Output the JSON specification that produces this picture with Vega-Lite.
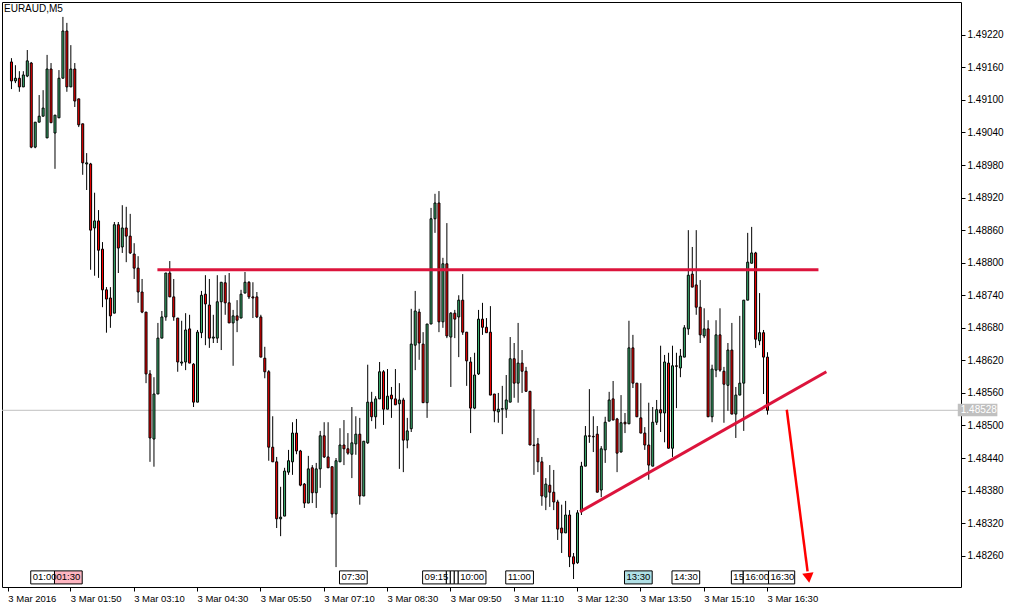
{
  "$schema": "https://vega.github.io/schema/vega-lite/v6.json",
  "width": 959,
  "height": 585,
  "autosize": {"type": "none"},
  "padding": {"left": 2, "top": 2, "right": 53, "bottom": 21},
  "background": "white",
  "config": {
    "view": {"stroke": "black", "strokeWidth": 1},
    "font": "Liberation Sans",
    "axis": {"labelFont": "Liberation Sans", "labelFontSize": 9.5, "labelColor": "black", "tickColor": "black", "domain": false, "grid": false, "title": null, "labelOverlap": false}
  },
  "title": {"text": "EURAUD,M5", "anchor": "start", "frame": "group", "orient": "top", "offset": -12, "dx": 2, "fontSize": 10, "fontWeight": "normal", "font": "Liberation Sans", "color": "black"},
  "datasets": {
    "candles": [
      {"t":35,"open":1.49170,"high":1.49177,"low":1.49120,"close":1.49135},
      {"t":40,"open":1.49135,"high":1.49164,"low":1.49131,"close":1.49140},
      {"t":45,"open":1.49140,"high":1.49153,"low":1.49115,"close":1.49124},
      {"t":50,"open":1.49124,"high":1.49153,"low":1.49124,"close":1.49146},
      {"t":55,"open":1.49144,"high":1.49192,"low":1.49142,"close":1.49172},
      {"t":60,"open":1.49168,"high":1.49170,"low":1.49011,"close":1.49013},
      {"t":65,"open":1.49013,"high":1.49059,"low":1.49011,"close":1.49059},
      {"t":70,"open":1.49059,"high":1.49109,"low":1.49059,"close":1.49070},
      {"t":75,"open":1.49070,"high":1.49118,"low":1.49070,"close":1.49085},
      {"t":80,"open":1.49030,"high":1.49183,"low":1.49030,"close":1.49157},
      {"t":85,"open":1.49157,"high":1.49168,"low":1.49058,"close":1.49058},
      {"t":90,"open":1.49039,"high":1.49072,"low":1.48973,"close":1.49072},
      {"t":95,"open":1.49067,"high":1.49155,"low":1.49067,"close":1.49140},
      {"t":100,"open":1.49140,"high":1.49253,"low":1.49140,"close":1.49227},
      {"t":105,"open":1.49227,"high":1.49242,"low":1.49115,"close":1.49124},
      {"t":110,"open":1.49124,"high":1.49201,"low":1.49124,"close":1.49157},
      {"t":115,"open":1.49157,"high":1.49168,"low":1.49087,"close":1.49098},
      {"t":120,"open":1.49102,"high":1.49102,"low":1.49050,"close":1.49054},
      {"t":125,"open":1.49056,"high":1.49056,"low":1.48962,"close":1.48984},
      {"t":130,"open":1.48982,"high":1.49002,"low":1.48934,"close":1.48984},
      {"t":135,"open":1.48982,"high":1.48984,"low":1.48787,"close":1.48860},
      {"t":140,"open":1.48864,"high":1.48929,"low":1.48776,"close":1.48877},
      {"t":145,"open":1.48877,"high":1.48897,"low":1.48772,"close":1.48823},
      {"t":150,"open":1.48825,"high":1.48838,"low":1.48718,"close":1.48750},
      {"t":155,"open":1.48750,"high":1.48755,"low":1.48671,"close":1.48733},
      {"t":160,"open":1.48735,"high":1.48755,"low":1.48680,"close":1.48702},
      {"t":165,"open":1.48707,"high":1.48875,"low":1.48707,"close":1.48870},
      {"t":170,"open":1.48870,"high":1.48875,"low":1.48781,"close":1.48827},
      {"t":175,"open":1.48829,"high":1.48906,"low":1.48818,"close":1.48864},
      {"t":180,"open":1.48864,"high":1.48903,"low":1.48801,"close":1.48849},
      {"t":185,"open":1.48849,"high":1.48890,"low":1.48816,"close":1.48818},
      {"t":190,"open":1.48816,"high":1.48836,"low":1.48770,"close":1.48790},
      {"t":195,"open":1.48790,"high":1.48812,"low":1.48726,"close":1.48746},
      {"t":200,"open":1.48746,"high":1.48770,"low":1.48707,"close":1.48709},
      {"t":205,"open":1.48709,"high":1.48709,"low":1.48578,"close":1.48595},
      {"t":210,"open":1.48595,"high":1.48602,"low":1.48433,"close":1.48477},
      {"t":215,"open":1.48475,"high":1.48589,"low":1.48424,"close":1.48558},
      {"t":220,"open":1.48558,"high":1.48689,"low":1.48558,"close":1.48661},
      {"t":225,"open":1.48661,"high":1.48711,"low":1.48661,"close":1.48700},
      {"t":230,"open":1.48700,"high":1.48781,"low":1.48693,"close":1.48781},
      {"t":235,"open":1.48781,"high":1.48803,"low":1.48737,"close":1.48737},
      {"t":240,"open":1.48737,"high":1.48770,"low":1.48693,"close":1.48700},
      {"t":245,"open":1.48698,"high":1.48698,"low":1.48599,"close":1.48617},
      {"t":250,"open":1.48615,"high":1.48693,"low":1.48610,"close":1.48617},
      {"t":255,"open":1.48617,"high":1.48707,"low":1.48602,"close":1.48676},
      {"t":260,"open":1.48678,"high":1.48704,"low":1.48615,"close":1.48615},
      {"t":265,"open":1.48613,"high":1.48615,"low":1.48534,"close":1.48543},
      {"t":270,"open":1.48543,"high":1.48676,"low":1.48543,"close":1.48672},
      {"t":275,"open":1.48671,"high":1.48748,"low":1.48661,"close":1.48740},
      {"t":280,"open":1.48742,"high":1.48777,"low":1.48648,"close":1.48724},
      {"t":285,"open":1.48722,"high":1.48770,"low":1.48643,"close":1.48661},
      {"t":290,"open":1.48661,"high":1.48704,"low":1.48652,"close":1.48663},
      {"t":295,"open":1.48661,"high":1.48777,"low":1.48652,"close":1.48728},
      {"t":300,"open":1.48728,"high":1.48764,"low":1.48639,"close":1.48764},
      {"t":305,"open":1.48763,"high":1.48777,"low":1.48704,"close":1.48726},
      {"t":310,"open":1.48726,"high":1.48781,"low":1.48689,"close":1.48689},
      {"t":315,"open":1.48689,"high":1.48713,"low":1.48610,"close":1.48702},
      {"t":320,"open":1.48702,"high":1.48731,"low":1.48672,"close":1.48694},
      {"t":325,"open":1.48698,"high":1.48750,"low":1.48698,"close":1.48742},
      {"t":330,"open":1.48744,"high":1.48783,"low":1.48744,"close":1.48764},
      {"t":335,"open":1.48764,"high":1.48766,"low":1.48733,"close":1.48737},
      {"t":340,"open":1.48737,"high":1.48764,"low":1.48698,"close":1.48735},
      {"t":345,"open":1.48737,"high":1.48746,"low":1.48698,"close":1.48700},
      {"t":350,"open":1.48700,"high":1.48704,"low":1.48626,"close":1.48626},
      {"t":355,"open":1.48624,"high":1.48645,"low":1.48587,"close":1.48599},
      {"t":360,"open":1.48599,"high":1.48602,"low":1.48435,"close":1.48460},
      {"t":365,"open":1.48460,"high":1.48517,"low":1.48433,"close":1.48433},
      {"t":370,"open":1.48433,"high":1.48442,"low":1.48311,"close":1.48328},
      {"t":375,"open":1.48328,"high":1.48387,"low":1.48296,"close":1.48331},
      {"t":380,"open":1.48333,"high":1.48422,"low":1.48333,"close":1.48416},
      {"t":385,"open":1.48414,"high":1.48455,"low":1.48409,"close":1.48435},
      {"t":390,"open":1.48433,"high":1.48506,"low":1.48409,"close":1.48486},
      {"t":395,"open":1.48486,"high":1.48512,"low":1.48447,"close":1.48453},
      {"t":400,"open":1.48453,"high":1.48455,"low":1.48388,"close":1.48390},
      {"t":405,"open":1.48392,"high":1.48394,"low":1.48348,"close":1.48357},
      {"t":410,"open":1.48357,"high":1.48444,"low":1.48357,"close":1.48420},
      {"t":415,"open":1.48422,"high":1.48427,"low":1.48357,"close":1.48376},
      {"t":420,"open":1.48376,"high":1.48431,"low":1.48348,"close":1.48420},
      {"t":425,"open":1.48420,"high":1.48490,"low":1.48385,"close":1.48481},
      {"t":430,"open":1.48481,"high":1.48506,"low":1.48440,"close":1.48442},
      {"t":435,"open":1.48442,"high":1.48506,"low":1.48422,"close":1.48422},
      {"t":440,"open":1.48424,"high":1.48424,"low":1.48330,"close":1.48337},
      {"t":445,"open":1.48337,"high":1.48440,"low":1.48239,"close":1.48435},
      {"t":450,"open":1.48433,"high":1.48495,"low":1.48433,"close":1.48464},
      {"t":455,"open":1.48464,"high":1.48510,"low":1.48427,"close":1.48457},
      {"t":460,"open":1.48457,"high":1.48486,"low":1.48446,"close":1.48449},
      {"t":465,"open":1.48447,"high":1.48534,"low":1.48403,"close":1.48468},
      {"t":470,"open":1.48466,"high":1.48517,"low":1.48446,"close":1.48484},
      {"t":475,"open":1.48484,"high":1.48514,"low":1.48354,"close":1.48370},
      {"t":480,"open":1.48370,"high":1.48471,"low":1.48370,"close":1.48471},
      {"t":485,"open":1.48468,"high":1.48612,"low":1.48466,"close":1.48543},
      {"t":490,"open":1.48543,"high":1.48562,"low":1.48508,"close":1.48516},
      {"t":495,"open":1.48516,"high":1.48554,"low":1.48494,"close":1.48549},
      {"t":500,"open":1.48549,"high":1.48617,"low":1.48549,"close":1.48599},
      {"t":505,"open":1.48599,"high":1.48602,"low":1.48501,"close":1.48530},
      {"t":510,"open":1.48530,"high":1.48604,"low":1.48530,"close":1.48554},
      {"t":515,"open":1.48556,"high":1.48571,"low":1.48514,"close":1.48549},
      {"t":520,"open":1.48549,"high":1.48604,"low":1.48538,"close":1.48538},
      {"t":525,"open":1.48540,"high":1.48578,"low":1.48420,"close":1.48547},
      {"t":530,"open":1.48547,"high":1.48551,"low":1.48414,"close":1.48473},
      {"t":535,"open":1.48473,"high":1.48514,"low":1.48458,"close":1.48490},
      {"t":540,"open":1.48494,"high":1.48715,"low":1.48488,"close":1.48650},
      {"t":545,"open":1.48648,"high":1.48748,"low":1.48602,"close":1.48711},
      {"t":550,"open":1.48709,"high":1.48715,"low":1.48621,"close":1.48652},
      {"t":555,"open":1.48650,"high":1.48672,"low":1.48542,"close":1.48542},
      {"t":560,"open":1.48542,"high":1.48687,"low":1.48514,"close":1.48687},
      {"t":565,"open":1.48687,"high":1.48901,"low":1.48687,"close":1.48881},
      {"t":570,"open":1.48881,"high":1.48927,"low":1.48855,"close":1.48910},
      {"t":575,"open":1.48910,"high":1.48932,"low":1.48672,"close":1.48691},
      {"t":580,"open":1.48691,"high":1.48809,"low":1.48680,"close":1.48798},
      {"t":585,"open":1.48798,"high":1.48873,"low":1.48661,"close":1.48665},
      {"t":590,"open":1.48663,"high":1.48709,"low":1.48571,"close":1.48707},
      {"t":595,"open":1.48707,"high":1.48713,"low":1.48661,"close":1.48696},
      {"t":600,"open":1.48700,"high":1.48740,"low":1.48626,"close":1.48731},
      {"t":605,"open":1.48731,"high":1.48779,"low":1.48667,"close":1.48672},
      {"t":610,"open":1.48672,"high":1.48672,"low":1.48573,"close":1.48619},
      {"t":615,"open":1.48617,"high":1.48626,"low":1.48486,"close":1.48532},
      {"t":620,"open":1.48532,"high":1.48634,"low":1.48530,"close":1.48593},
      {"t":625,"open":1.48595,"high":1.48713,"low":1.48593,"close":1.48696},
      {"t":630,"open":1.48696,"high":1.48726,"low":1.48667,"close":1.48681},
      {"t":635,"open":1.48681,"high":1.48698,"low":1.48671,"close":1.48671},
      {"t":640,"open":1.48672,"high":1.48720,"low":1.48556,"close":1.48556},
      {"t":645,"open":1.48558,"high":1.48558,"low":1.48506,"close":1.48527},
      {"t":650,"open":1.48525,"high":1.48560,"low":1.48505,"close":1.48530},
      {"t":655,"open":1.48530,"high":1.48573,"low":1.48484,"close":1.48531},
      {"t":660,"open":1.48530,"high":1.48593,"low":1.48514,"close":1.48547},
      {"t":665,"open":1.48543,"high":1.48663,"low":1.48543,"close":1.48623},
      {"t":670,"open":1.48623,"high":1.48652,"low":1.48551,"close":1.48578},
      {"t":675,"open":1.48578,"high":1.48689,"low":1.48542,"close":1.48615},
      {"t":680,"open":1.48615,"high":1.48639,"low":1.48560,"close":1.48600},
      {"t":685,"open":1.48600,"high":1.48608,"low":1.48562,"close":1.48563},
      {"t":690,"open":1.48563,"high":1.48563,"low":1.48464,"close":1.48464},
      {"t":695,"open":1.48464,"high":1.48530,"low":1.48409,"close":1.48463},
      {"t":700,"open":1.48466,"high":1.48477,"low":1.48414,"close":1.48433},
      {"t":705,"open":1.48433,"high":1.48442,"low":1.48352,"close":1.48370},
      {"t":710,"open":1.48368,"high":1.48403,"low":1.48344,"close":1.48392},
      {"t":715,"open":1.48390,"high":1.48427,"low":1.48350,"close":1.48377},
      {"t":720,"open":1.48377,"high":1.48418,"low":1.48344,"close":1.48359},
      {"t":725,"open":1.48359,"high":1.48363,"low":1.48289,"close":1.48309},
      {"t":730,"open":1.48311,"high":1.48354,"low":1.48265,"close":1.48302},
      {"t":735,"open":1.48302,"high":1.48361,"low":1.48302,"close":1.48335},
      {"t":740,"open":1.48335,"high":1.48344,"low":1.48239,"close":1.48258},
      {"t":745,"open":1.48258,"high":1.48265,"low":1.48217,"close":1.48245},
      {"t":750,"open":1.48247,"high":1.48344,"low":1.48245,"close":1.48339},
      {"t":755,"open":1.48341,"high":1.48433,"low":1.48335,"close":1.48425},
      {"t":760,"open":1.48425,"high":1.48499,"low":1.48425,"close":1.48481},
      {"t":765,"open":1.48481,"high":1.48567,"low":1.48468,"close":1.48480},
      {"t":770,"open":1.48480,"high":1.48517,"low":1.48451,"close":1.48479},
      {"t":775,"open":1.48484,"high":1.48499,"low":1.48377,"close":1.48377},
      {"t":780,"open":1.48381,"high":1.48462,"low":1.48368,"close":1.48457},
      {"t":785,"open":1.48455,"high":1.48516,"low":1.48431,"close":1.48506},
      {"t":790,"open":1.48508,"high":1.48562,"low":1.48508,"close":1.48547},
      {"t":795,"open":1.48549,"high":1.48582,"low":1.48510,"close":1.48510},
      {"t":800,"open":1.48512,"high":1.48514,"low":1.48414,"close":1.48449},
      {"t":805,"open":1.48451,"high":1.48556,"low":1.48451,"close":1.48505},
      {"t":810,"open":1.48506,"high":1.48523,"low":1.48486,"close":1.48503},
      {"t":815,"open":1.48503,"high":1.48693,"low":1.48503,"close":1.48643},
      {"t":820,"open":1.48643,"high":1.48667,"low":1.48569,"close":1.48578},
      {"t":825,"open":1.48578,"high":1.48578,"low":1.48516,"close":1.48516},
      {"t":830,"open":1.48514,"high":1.48578,"low":1.48486,"close":1.48486},
      {"t":835,"open":1.48486,"high":1.48497,"low":1.48455,"close":1.48464},
      {"t":840,"open":1.48464,"high":1.48542,"low":1.48400,"close":1.48427},
      {"t":845,"open":1.48425,"high":1.48534,"low":1.48425,"close":1.48506},
      {"t":850,"open":1.48506,"high":1.48547,"low":1.48501,"close":1.48529},
      {"t":855,"open":1.48529,"high":1.48647,"low":1.48488,"close":1.48523},
      {"t":860,"open":1.48523,"high":1.48630,"low":1.48469,"close":1.48617},
      {"t":865,"open":1.48615,"high":1.48634,"low":1.48458,"close":1.48458},
      {"t":870,"open":1.48458,"high":1.48647,"low":1.48442,"close":1.48610},
      {"t":875,"open":1.48610,"high":1.48634,"low":1.48532,"close":1.48609},
      {"t":880,"open":1.48606,"high":1.48641,"low":1.48589,"close":1.48628},
      {"t":885,"open":1.48626,"high":1.48685,"low":1.48626,"close":1.48680},
      {"t":890,"open":1.48678,"high":1.48860,"low":1.48667,"close":1.48777},
      {"t":895,"open":1.48779,"high":1.48829,"low":1.48755,"close":1.48755},
      {"t":900,"open":1.48759,"high":1.48860,"low":1.48704,"close":1.48718},
      {"t":905,"open":1.48718,"high":1.48768,"low":1.48652,"close":1.48667},
      {"t":910,"open":1.48665,"high":1.48716,"low":1.48661,"close":1.48678},
      {"t":915,"open":1.48678,"high":1.48694,"low":1.48516,"close":1.48516},
      {"t":920,"open":1.48516,"high":1.48612,"low":1.48506,"close":1.48604},
      {"t":925,"open":1.48602,"high":1.48694,"low":1.48589,"close":1.48667},
      {"t":930,"open":1.48667,"high":1.48716,"low":1.48599,"close":1.48602},
      {"t":935,"open":1.48600,"high":1.48608,"low":1.48505,"close":1.48576},
      {"t":940,"open":1.48574,"high":1.48652,"low":1.48527,"close":1.48639},
      {"t":945,"open":1.48639,"high":1.48689,"low":1.48521,"close":1.48521},
      {"t":950,"open":1.48521,"high":1.48571,"low":1.48477,"close":1.48556},
      {"t":955,"open":1.48556,"high":1.48702,"low":1.48556,"close":1.48578},
      {"t":960,"open":1.48578,"high":1.48731,"low":1.48490,"close":1.48731},
      {"t":965,"open":1.48731,"high":1.48855,"low":1.48731,"close":1.48801},
      {"t":970,"open":1.48799,"high":1.48866,"low":1.48799,"close":1.48818},
      {"t":975,"open":1.48818,"high":1.48820,"low":1.48643,"close":1.48659},
      {"t":980,"open":1.48656,"high":1.48744,"low":1.48648,"close":1.48671},
      {"t":985,"open":1.48671,"high":1.48676,"low":1.48558,"close":1.48626},
      {"t":990,"open":1.48626,"high":1.48635,"low":1.48520,"close":1.48528}
    ],
    "levels": [
      {"name": "resistance", "t": 220, "p": 1.48787},
      {"name": "resistance", "t": 1055, "p": 1.48787},
      {"name": "support", "t": 753.75, "p": 1.48341},
      {"name": "support", "t": 1065, "p": 1.48599}
    ],
    "arrow": [
      {"t": 1015, "p": 1.48529},
      {"t": 1041.25, "p": 1.48231}
    ],
    "arrowhead": [
      {"t": 1042.5, "p": 1.48219}
    ],
    "events": [
      {"t": 60, "t_end": 90, "label": "01:00", "kind": "low"},
      {"t": 90, "t_end": 125, "label": "01:30", "kind": "high"},
      {"t": 450, "t_end": 485, "label": "07:30", "kind": "low"},
      {"t": 555, "t_end": 585, "label": "09:15", "kind": "low"},
      {"t": 585, "t_end": 590, "label": "09:45", "kind": "low"},
      {"t": 590, "t_end": 595, "label": "09:50", "kind": "low"},
      {"t": 595, "t_end": 600, "label": "09:55", "kind": "low"},
      {"t": 600, "t_end": 635, "label": "10:00", "kind": "low"},
      {"t": 660, "t_end": 695, "label": "11:00", "kind": "low"},
      {"t": 810, "t_end": 845, "label": "13:30", "kind": "medium"},
      {"t": 870, "t_end": 905, "label": "14:30", "kind": "low"},
      {"t": 945, "t_end": 960, "label": "15:45", "kind": "low"},
      {"t": 960, "t_end": 992, "label": "16:00", "kind": "low"},
      {"t": 992, "t_end": 1025, "label": "16:30", "kind": "low"}
    ],
    "bid": [{"price": 1.48528}]
  },
  "layer": [
    {
      "data": {"name": "bid"},
      "mark": {"type": "rule", "color": "#C0C0C0", "strokeWidth": 1},
      "encoding": {
        "y": {
          "field": "price", "type": "quantitative",
          "scale": {"domain": [1.482023, 1.492805], "nice": false, "zero": false},
          "axis": {
            "orient": "right",
            "values": [1.4826, 1.4832, 1.4838, 1.4844, 1.485, 1.4856, 1.4862, 1.4868, 1.4874, 1.488, 1.4886, 1.4892, 1.4898, 1.4904, 1.491, 1.4916, 1.4922],
            "tickCount": 40,
            "format": ".5f",
            "tickSize": 4,
            "labelPadding": 2,
            "labelFontSize": 10,
            "labelFlush": false,
            "labelOverlap": false
          }
        }
      }
    },
    {
      "data": {"name": "candles"},
      "mark": {"type": "rule", "color": "black", "strokeWidth": 1, "xOffset": 0.5},
      "encoding": {
        "x": {
          "field": "t", "type": "quantitative",
          "scale": {"domain": [30, 1228.75], "nice": false, "zero": false},
          "axis": {
            "orient": "bottom",
            "values": [31, 110, 190, 270, 350, 430, 510, 590, 670, 750, 830, 910, 990],
            "tickCount": 40,
            "labelExpr": "datum.value < 60 ? '3 Mar 2016' : '3 Mar ' + (floor(datum.value / 60) < 10 ? '0' : '') + floor(datum.value / 60) + ':' + (datum.value % 60 < 10 ? '0' : '') + (datum.value % 60)",
            "labelAlign": "left",
            "labelBaseline": "top",
            "labelPadding": 2,
            "tickSize": 4,
            "labelFlush": false,
            "labelOverlap": false
          }
        },
        "y": {
          "field": "low", "type": "quantitative",
          "axis": {
            "orient": "right",
            "values": [1.4826, 1.4832, 1.4838, 1.4844, 1.485, 1.4856, 1.4862, 1.4868, 1.4874, 1.488, 1.4886, 1.4892, 1.4898, 1.4904, 1.491, 1.4916, 1.4922],
            "tickCount": 40,
            "format": ".5f",
            "tickSize": 4,
            "labelPadding": 2,
            "labelFontSize": 10,
            "labelFlush": false,
            "labelOverlap": false
          }
        },
        "y2": {"field": "high"}
      }
    },
    {
      "data": {"name": "candles"},
      "mark": {"type": "bar", "size": 2, "stroke": "black", "strokeWidth": 1, "xOffset": 0.5},
      "encoding": {
        "x": {"field": "t", "type": "quantitative"},
        "y": {"field": "open", "type": "quantitative"},
        "y2": {"field": "close"},
        "fill": {"condition": {"test": "datum.close > datum.open", "value": "#3CB371"}, "value": "#FF0000"}
      }
    },
    {
      "data": {"name": "levels"},
      "mark": {"type": "line", "color": "#DC143C", "strokeWidth": 3},
      "encoding": {
        "x": {"field": "t", "type": "quantitative"},
        "y": {"field": "p", "type": "quantitative"},
        "detail": {"field": "name"}
      }
    },
    {
      "data": {"name": "arrow"},
      "mark": {"type": "line", "color": "#FF0000", "strokeWidth": 2.5},
      "encoding": {
        "x": {"field": "t", "type": "quantitative"},
        "y": {"field": "p", "type": "quantitative"}
      }
    },
    {
      "data": {"name": "arrowhead"},
      "mark": {"type": "point", "shape": "triangle-down", "filled": true, "color": "#FF0000", "size": 130, "opacity": 1, "angle": -8},
      "encoding": {
        "x": {"field": "t", "type": "quantitative"},
        "y": {"field": "p", "type": "quantitative"}
      }
    },
    {
      "data": {"name": "events"},
      "mark": {"type": "rect", "stroke": "black", "strokeWidth": 1},
      "encoding": {
        "x": {"field": "t", "type": "quantitative"},
        "x2": {"field": "t_end"},
        "y": {"datum": 1.48232},
        "y2": {"datum": 1.48208},
        "fill": {"field": "kind", "type": "nominal", "scale": {"domain": ["low", "high", "medium"], "range": ["#FFFFFF", "#FFB6C1", "#B0E0E6"]}, "legend": null}
      }
    },
    {
      "data": {"name": "events"},
      "transform": [{"filter": "datum.t_end - datum.t >= 25"}],
      "mark": {"type": "text", "align": "left", "baseline": "middle", "dx": 2, "fontSize": 9.5, "font": "Liberation Sans", "color": "black", "limit": 24, "ellipsis": " "},
      "encoding": {
        "x": {"field": "t", "type": "quantitative"},
        "y": {"datum": 1.4822},
        "text": {"field": "label"}
      }
    },
    {
      "data": {"name": "events"},
      "transform": [{"filter": "datum.t_end - datum.t >= 10 && datum.t_end - datum.t < 25"}],
      "mark": {"type": "text", "align": "left", "baseline": "middle", "dx": 2, "fontSize": 9.5, "font": "Liberation Sans", "color": "black", "limit": 15, "ellipsis": " "},
      "encoding": {
        "x": {"field": "t", "type": "quantitative"},
        "y": {"datum": 1.4822},
        "text": {"field": "label"}
      }
    },
    {
      "data": {"name": "bid"},
      "mark": {"type": "rect", "fill": "#C0C0C0"},
      "encoding": {
        "x": {"datum": 1231},
        "x2": {"datum": 1281},
        "y": {"datum": 1.4854},
        "y2": {"datum": 1.48517}
      }
    },
    {
      "data": {"name": "bid"},
      "mark": {"type": "text", "align": "left", "baseline": "middle", "dx": 3, "fontSize": 10, "font": "Liberation Sans", "color": "white"},
      "encoding": {
        "x": {"datum": 1231},
        "y": {"field": "price", "type": "quantitative"},
        "text": {"field": "price", "format": ".5f"}
      }
    }
  ]
}
